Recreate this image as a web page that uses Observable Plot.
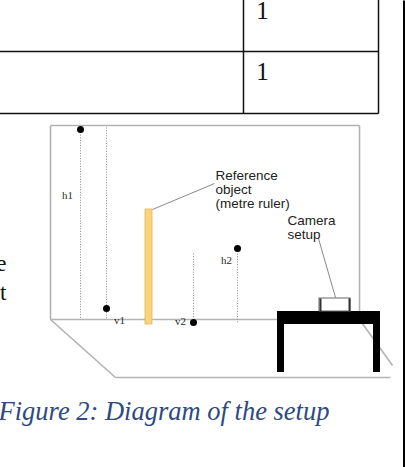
<!DOCTYPE html>
<html>
<head>
<meta charset="utf-8">
<script src="https://cdn.jsdelivr.net/npm/d3@7"></script>
<script src="https://cdn.jsdelivr.net/npm/@observablehq/plot@0.6"></script>
<style>
  html, body { margin: 0; padding: 0; background: #fff; overflow: hidden; }
  #chart svg { display: block; }
</style>
</head>
<body>
<div id="chart"></div>
<script>
// ---- document table (cropped) ----
const docTableLines = [
  {x1: -5, y1: 51, x2: 378, y2: 51},
  {x1: -5, y1: 113, x2: 378, y2: 113},
  {x1: 243, y1: -5, x2: 243, y2: 113},
  {x1: 378, y1: -5, x2: 378, y2: 113}
];
const docTableCells = [
  {x: 262, y: 10, text: "1"},
  {x: 262, y: 71, text: "1"}
];
const pageEdge = [{x1: 403.5, y1: 0, x2: 403.5, y2: 467}];
const bodyFragments = [
  {x: 6, y: 263, text: "e"},
  {x: 6, y: 292, text: "t"}
];

// ---- room outline ----
const roomLines = [
  {x1: 50, y1: 125, x2: 359, y2: 125},
  {x1: 50, y1: 125, x2: 50, y2: 319},
  {x1: 359, y1: 125, x2: 359, y2: 312},
  {x1: 50, y1: 319, x2: 278, y2: 319},
  {x1: 50, y1: 319, x2: 115, y2: 377},
  {x1: 115, y1: 377, x2: 390, y2: 377},
  {x1: 359, y1: 319, x2: 392, y2: 365}
];

// ---- measurement guides ----
const guideLines = [
  {x1: 80, y1: 129, x2: 80, y2: 319},
  {x1: 106, y1: 127, x2: 106, y2: 319},
  {x1: 193, y1: 253, x2: 193, y2: 318},
  {x1: 237, y1: 248, x2: 237, y2: 323}
];
const markerPoints = [
  {x: 80, y: 129},
  {x: 106, y: 308},
  {x: 193, y: 322},
  {x: 237, y: 248}
];
const guideLabels = [
  {x: 67, y: 195, text: "h1"},
  {x: 119, y: 320, text: "v1"},
  {x: 180, y: 321, text: "v2"},
  {x: 226, y: 260, text: "h2"}
];

// ---- objects ----
const ruler = [{x1: 145, y1: 209, x2: 152, y2: 324}];
const tableParts = [
  {x1: 277, y1: 311, x2: 380, y2: 324},
  {x1: 277, y1: 324, x2: 284, y2: 372},
  {x1: 373, y1: 324, x2: 380, y2: 372}
];
const cameraBox = [{x1: 319, y1: 298, x2: 350, y2: 311}];
const cameraSides = [
  {x1: 320, y1: 298, x2: 320, y2: 311},
  {x1: 349, y1: 298, x2: 349, y2: 311}
];
const leaderLines = [
  {x1: 152, y1: 209, x2: 214, y2: 183},
  {x1: 318, y1: 238, x2: 335, y2: 297}
];
const annotations = [
  {x: 215, y: 175, text: "Reference"},
  {x: 215, y: 189, text: "object"},
  {x: 215, y: 203, text: "(metre ruler)"},
  {x: 287, y: 220, text: "Camera"},
  {x: 287, y: 234, text: "setup"}
];
const caption = [{x: -2, y: 411, text: "Figure 2: Diagram of the setup"}];

const chart = Plot.plot({
  width: 405,
  height: 467,
  margin: 0,
  x: {domain: [0, 405], range: [0, 405], axis: null},
  y: {domain: [0, 467], range: [0, 467], axis: null},
  marks: [
    Plot.link(docTableLines, {x1: "x1", y1: "y1", x2: "x2", y2: "y2", stroke: "#111", strokeWidth: 1.5}),
    Plot.text(docTableCells, {x: "x", y: "y", text: "text", fontFamily: "Liberation Serif", fontSize: 25, fill: "#111"}),
    Plot.link(pageEdge, {x1: "x1", y1: "y1", x2: "x2", y2: "y2", stroke: "#000", strokeWidth: 2}),
    Plot.text(bodyFragments, {x: "x", y: "y", text: "text", textAnchor: "end", fontFamily: "Liberation Serif", fontSize: 23, fill: "#111"}),
    Plot.link(roomLines, {x1: "x1", y1: "y1", x2: "x2", y2: "y2", stroke: "#b3b3b3", strokeWidth: 1.6}),
    Plot.link(guideLines, {x1: "x1", y1: "y1", x2: "x2", y2: "y2", stroke: "#8a8a8a", strokeWidth: 1, strokeDasharray: "1,1.6"}),
    Plot.rect(ruler, {x1: "x1", y1: "y1", x2: "x2", y2: "y2", fill: "#f7d57c", stroke: "#e3b44e", strokeWidth: 0.8}),
    Plot.link(leaderLines, {x1: "x1", y1: "y1", x2: "x2", y2: "y2", stroke: "#7a7a7a", strokeWidth: 0.9}),
    Plot.dot(markerPoints, {x: "x", y: "y", r: 3.5, fill: "#000", stroke: "none"}),
    Plot.text(guideLabels, {x: "x", y: "y", text: "text", fontFamily: "Liberation Serif", fontSize: 11, fill: "#2a2a2a"}),
    Plot.text(annotations, {x: "x", y: "y", text: "text", textAnchor: "start", fontFamily: "Liberation Sans", fontSize: 13.5, fill: "#222"}),
    Plot.rect(tableParts, {x1: "x1", y1: "y1", x2: "x2", y2: "y2", fill: "#000"}),
    Plot.rect(cameraBox, {x1: "x1", y1: "y1", x2: "x2", y2: "y2", fill: "#fff", stroke: "#666", strokeWidth: 1}),
    Plot.link(cameraSides, {x1: "x1", y1: "y1", x2: "x2", y2: "y2", stroke: "#333", strokeWidth: 2}),
    Plot.text(caption, {x: "x", y: "y", text: "text", textAnchor: "start", fontFamily: "Liberation Serif", fontStyle: "italic", fontSize: 26.5, fill: "#2e4a7f"})
  ]
});
document.getElementById("chart").appendChild(chart);
</script>
</body>
</html>
